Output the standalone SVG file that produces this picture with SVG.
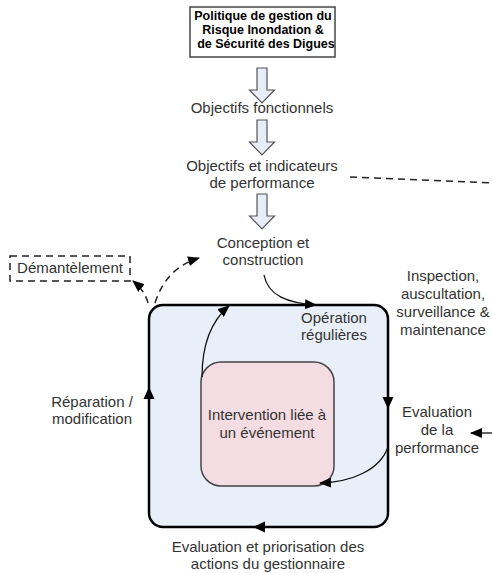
<svg xmlns="http://www.w3.org/2000/svg" width="492" height="573" viewBox="0 0 492 573">
<style>
text{font-family:"Liberation Sans",Arial,sans-serif;font-size:15px;fill:#333;text-anchor:middle}
.b{font-weight:bold;font-size:12.5px;fill:#000}
.hol{fill:#e6edf7;stroke:#555;stroke-width:1.2}
.c{fill:none;stroke:#111;stroke-width:1.3}
.d{fill:none;stroke:#222;stroke-width:1.5;stroke-dasharray:7 5}
</style>
<defs>
<marker id="ar" viewBox="0 0 12 10" refX="11" refY="5" markerWidth="12" markerHeight="10" markerUnits="userSpaceOnUse" orient="auto"><path d="M0,0 L12,5 L0,10 z" fill="#000"/></marker>
<path id="ah" d="M0,0 L-12,-5.5 L-12,5.5 z" fill="#000"/>
<path id="hollow" d="M-5,0 H5 V22 H12.5 L0,35 L-12.5,22 H-5 z"/>
</defs>
<rect width="492" height="573" fill="#fff"/>
<g id="politique">
<rect x="190" y="7" width="145" height="50" fill="#fff" stroke="#444" stroke-width="1.5"/>
<text class="b" x="263" y="19.5">Politique de gestion du</text>
<text class="b" x="263" y="33.5">Risque Inondation &amp;</text>
<text class="b" x="266" y="48">de Sécurité des Digues</text>
</g>
<g id="main-cycle">
<rect x="149" y="305" width="239" height="222" rx="14" fill="#e9eff8" stroke="#000" stroke-width="2.5"/>
<text x="334" y="323">Opération</text>
<text x="334" y="340">régulières</text>
</g>
<g id="intervention">
<rect x="201" y="362" width="133" height="124" rx="20" fill="#f3dde2" stroke="#444" stroke-width="1.5"/>
<text x="267" y="420">Intervention liée à</text>
<text x="267" y="438">un événement</text>
</g>
<g id="objectifs-fonctionnels"><text x="262" y="113">Objectifs fonctionnels</text></g>
<g id="objectifs-indicateurs"><text x="262" y="171">Objectifs et indicateurs</text><text x="262" y="188">de performance</text></g>
<g id="conception"><text x="263" y="248">Conception et</text><text x="263" y="265">construction</text></g>
<g id="demantelement">
<rect x="10" y="256" width="120" height="25" fill="#fff" stroke="#222" stroke-width="1.5" stroke-dasharray="7 5"/>
<text x="70" y="273">Démantèlement</text>
</g>
<g id="reparation"><text x="92" y="407">Réparation /</text><text x="92" y="424">modification</text></g>
<g id="inspection"><text x="443" y="281">Inspection,</text><text x="443" y="299">auscultation,</text><text x="443" y="317">surveillance &amp;</text><text x="443" y="335">maintenance</text></g>
<g id="evaluation-performance"><text x="437" y="417">Evaluation</text><text x="437" y="435">de la</text><text x="437" y="453">performance</text></g>
<g id="evaluation-priorisation"><text x="268" y="552">Evaluation et priorisation des</text><text x="268" y="569">actions du gestionnaire</text></g>
<g id="connectors">
<use href="#hollow" class="hol" transform="translate(262,68)"/>
<use href="#hollow" class="hol" transform="translate(262,120)"/>
<use href="#hollow" class="hol" transform="translate(262,194)"/>
<path class="d" d="M350,177 L492,183"/>
<path class="d" d="M148,303 Q145,291 133,281" marker-end="url(#ar)"/>
<path class="d" d="M155,303 Q166,268 199,258" marker-end="url(#ar)"/>
<path class="c" d="M264,275 C268,296 288,303 316,305" marker-end="url(#ar)"/>
<path class="c" d="M202,377 C202,345 210,322 229,306" marker-end="url(#ar)"/>
<path class="c" d="M388,447 C380,470 352,482 320,483" marker-end="url(#ar)"/>
<path class="c" d="M492,433 L471,433" marker-end="url(#ar)"/>
<use href="#ah" transform="translate(388,409) rotate(90)"/>
<use href="#ah" transform="translate(253,527) rotate(180)"/>
<use href="#ah" transform="translate(149,387) rotate(-90)"/>
</g>
</svg>
